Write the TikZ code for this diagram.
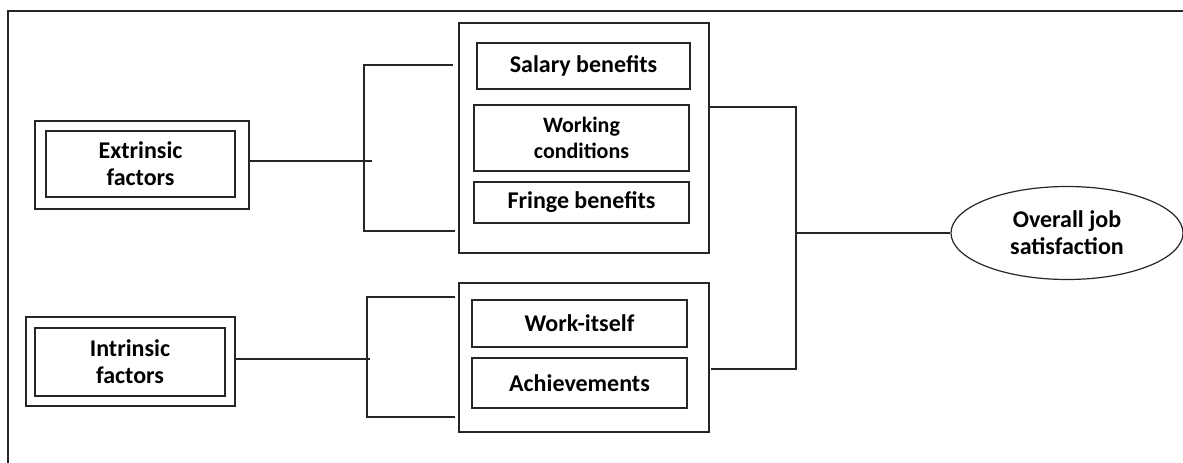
\documentclass[tikz,border=0pt]{standalone}
\usepackage{fontspec}
\setmainfont{Carlito}
\usetikzlibrary{shapes.geometric,positioning}

\begin{document}
\begin{tikzpicture}[x=1pt,y=-1pt,line width=1.2pt,draw=black!85,
  box/.style={draw,rectangle,inner sep=0pt,align=center,
    font=\bfseries\fontsize{24}{27}\selectfont},
  grp/.style={draw,rectangle,inner sep=0pt}]
\useasboundingbox (0,0) rectangle (1183,463);
\draw (8,463) -- (8,11) -- (1183,11);
% left side: the two kinds of factors
\node[grp,minimum width=214,minimum height=88] (ext) at (142,165) {};
\node[box,minimum width=189,minimum height=66] (exti) at (140.5,164) {Extrinsic\\factors};
\node[grp,minimum width=209,minimum height=89] (int) at (130.5,361.5) {};
\node[box,minimum width=190,minimum height=68] (inti) at (130,362) {Intrinsic\\factors};
% middle: the grouped items
\node[grp,minimum width=250,minimum height=230] (up) at (584,138) {};
\node[box,minimum width=213,minimum height=46] (sal) at (583.5,66) {Salary benefits};
\node[box,minimum width=215,minimum height=66,font=\bfseries\fontsize{22}{26}\selectfont] (wc) at (581.5,138) {Working\\conditions};
\node[box,minimum width=215,minimum height=41] (fb) at (581.5,202.5) {Fringe benefits};
\node[grp,minimum width=250,minimum height=149] (lo) at (584,357.5) {};
\node[box,minimum width=215,minimum height=47] (wi) at (579.5,323.5) {Work-itself};
\node[box,minimum width=215,minimum height=50] (ach) at (579.5,383) {Achievements};
% right: outcome
\node[box,ellipse,minimum width=232,minimum height=93] (sat) at (1067,233) {Overall job\\satisfaction};
% brackets
\coordinate (ej) at (364,161); \coordinate (et) at (453,65); \coordinate (eb) at (455,231);
\coordinate (ij) at (367,359); \coordinate (it) at (455,297); \coordinate (ib) at (455,417);
\coordinate (ut) at (709,107); \coordinate (lt) at (711,369); \coordinate (oj) at (796,233);
\draw (ext.east |- ej) -- ([xshift=8pt]ej);
\draw (et) -| (ej) |- (eb);
\draw (int.east |- ij) -- ([xshift=3pt]ij);
\draw (it) -| (ij) |- (ib);
\draw (ut) -| (oj) |- (lt);
\draw (oj) -- (sat.west);
\end{tikzpicture}
\end{document}
